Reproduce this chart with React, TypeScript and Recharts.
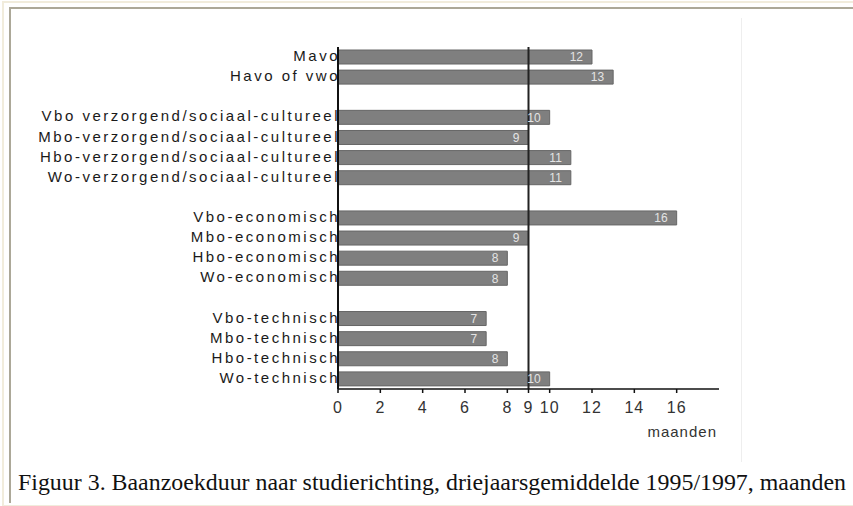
import { BarChart, Bar, XAxis, YAxis, ReferenceLine, LabelList, Label } from "recharts";

// studierichtingen, blanco regels zijn de witregels tussen de groepen
const categories = [
  "Mavo",
  "Havo of vwo",
  "gap1",
  "Vbo verzorgend/sociaal-cultureel",
  "Mbo-verzorgend/sociaal-cultureel",
  "Hbo-verzorgend/sociaal-cultureel",
  "Wo-verzorgend/sociaal-cultureel",
  "gap2",
  "Vbo-economisch",
  "Mbo-economisch",
  "Hbo-economisch",
  "Wo-economisch",
  "gap3",
  "Vbo-technisch",
  "Mbo-technisch",
  "Hbo-technisch",
  "Wo-technisch",
];

const months: (number | null)[] = [12, 13, null, 10, 9, 11, 11, null, 16, 9, 8, 8, null, 7, 7, 8, 10];

const xTicks = [0, 2, 4, 6, 8, 9, 10, 12, 14, 16];
const average = 9;

const data = categories.map((name, i) => ({ name, value: months[i] }));

const labelFont = "'Liberation Sans', Arial, sans-serif";

function CategoryTick({ x, y, payload }: any) {
  const text = String(payload.value).startsWith("gap") ? "" : payload.value;
  return (
    <text
      x={x + 4}
      y={y}
      dy={4}
      textAnchor="end"
      fill="#1a1a1a"
      fontSize={15}
      fontFamily={labelFont}
      style={{ letterSpacing: "2.5px" }}
    >
      {text}
    </text>
  );
}

export default function App() {
  return (
    <div style={{ position: "absolute", left: 0, top: 0, width: 853, height: 506, background: "#fff", overflow: "hidden" }}>
      {/* frame */}
      <div style={{ position: "absolute", left: 2, top: 1, width: 860, height: 502, borderTop: "2px solid #f1ecdc", borderLeft: "2px solid #f1ecdc", borderBottom: "3px solid #f1ecdc" }} />
      <div style={{ position: "absolute", left: 9, top: 7, width: 860, height: 494, borderTop: "2px solid #aca898", borderLeft: "2px solid #aca898" }} />
      <div style={{ position: "absolute", left: 741, top: 18, width: 1, height: 444, background: "#eeeeee" }} />

      <div style={{ position: "absolute", left: 0, top: 0 }}>
        <BarChart
          layout="vertical"
          width={853}
          height={506}
          data={data}
          margin={{ top: 47, right: 134, bottom: 67, left: 0 }}
          barCategoryGap={3}
        >
          <XAxis
            type="number"
            domain={[0, 18]}
            ticks={xTicks}
            interval={0}
            height={50}
            tickSize={4}
            tickMargin={9}
            stroke="#111"
            strokeWidth={1.5}
            tick={{ fill: "#333", fontSize: 16, fontFamily: labelFont, letterSpacing: "1px" }}
          >
            <Label
              value="maanden"
              position="insideBottomRight"
              offset={2}
              fill="#333"
              fontSize={15}
              fontFamily={labelFont}
              style={{ letterSpacing: "1px" }}
            />
          </XAxis>
          <YAxis
            type="category"
            dataKey="name"
            width={338}
            interval={0}
            tickLine={false}
            tickSize={0}
            stroke="#111"
            strokeWidth={2}
            tick={<CategoryTick />}
          />
          <Bar dataKey="value" fill="#7f7f7f" stroke="#666" strokeWidth={1} barSize={14} isAnimationActive={false}>
            <LabelList
              dataKey="value"
              position="insideRight"
              offset={9}
              fill="#e4e4e4"
              fontSize={12}
              fontFamily={labelFont}
              formatter={(v: any) => (v == null ? "" : v)}
            />
          </Bar>
          <ReferenceLine x={average} stroke="#222" strokeWidth={2} />
        </BarChart>
      </div>

      <svg style={{ position: "absolute", left: 0, top: 0 }} width={853} height={506}>
        <text
          x={18}
          y={490}
          fontFamily="'Liberation Serif', 'Times New Roman', serif"
          fontSize={24}
          fill="#111"
          textLength={828}
          lengthAdjust="spacingAndGlyphs"
        >
          Figuur 3. Baanzoekduur naar studierichting, driejaarsgemiddelde 1995/1997, maanden
        </text>
      </svg>
    </div>
  );
}
